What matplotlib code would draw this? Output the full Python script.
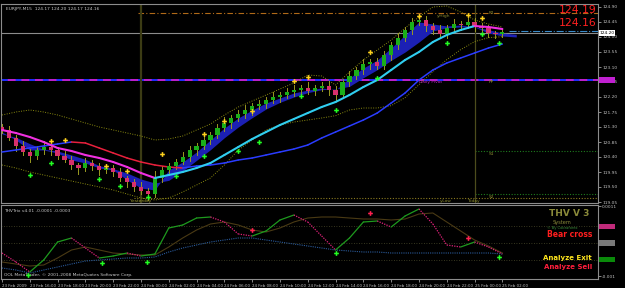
import numpy as np
import matplotlib
matplotlib.use('Agg')
import matplotlib.pyplot as plt

# ---- data (EURJPY M15, shown as 30 min bars) ----
# x axis in hours since 23 Feb 2009 14:00
bar_hours = np.arange(73) * 0.5
closes = [121.21, 120.97, 120.73, 120.55, 120.43, 120.61, 120.70, 120.61, 120.43, 120.31,
          120.16, 120.07, 120.22, 120.13, 120.01, 120.07, 119.95, 119.77, 119.65, 119.50,
          119.38, 119.29, 119.77, 120.01, 120.13, 120.25, 120.40, 120.61, 120.73, 120.91,
          121.06, 121.27, 121.42, 121.57, 121.69, 121.81, 121.93, 121.99, 122.11, 122.20,
          122.26, 122.35, 122.41, 122.47, 122.38, 122.47, 122.53, 122.41, 122.26, 122.65,
          122.83, 123.01, 123.19, 123.25, 123.13, 123.46, 123.76, 123.97, 124.21, 124.45,
          124.51, 124.33, 124.21, 124.09, 124.27, 124.39, 124.36, 124.45, 124.33, 124.27,
          124.12, 124.08, 124.16]
first_open = 121.30
wick_up = [0.09, 0.12, 0.08, 0.15, 0.10, 0.13, 0.18, 0.09, 0.08, 0.14, 0.12, 0.07, 0.16, 0.10, 0.08,
           0.13, 0.09, 0.12, 0.07, 0.10, 0.15, 0.08, 0.21, 0.13, 0.10, 0.09, 0.15, 0.12, 0.08, 0.14,
           0.10, 0.13, 0.17, 0.09, 0.12, 0.15, 0.08, 0.13, 0.10, 0.16, 0.09, 0.12, 0.14, 0.08, 0.18,
           0.10, 0.13, 0.15, 0.12, 0.09, 0.14, 0.10, 0.16, 0.08, 0.13, 0.12, 0.09, 0.15, 0.10, 0.13,
           0.17, 0.12, 0.08, 0.14, 0.10, 0.15, 0.09, 0.13, 0.12, 0.08, 0.10, 0.07, 0.09]
wick_dn = [0.10, 0.07, 0.14, 0.09, 0.17, 0.08, 0.12, 0.15, 0.10, 0.07, 0.13, 0.19, 0.09, 0.12, 0.15,
           0.08, 0.13, 0.10, 0.16, 0.12, 0.09, 0.18, 0.08, 0.13, 0.15, 0.10, 0.07, 0.12, 0.14, 0.09,
           0.13, 0.08, 0.10, 0.15, 0.09, 0.12, 0.16, 0.08, 0.13, 0.10, 0.14, 0.09, 0.12, 0.17, 0.08,
           0.13, 0.10, 0.15, 0.19, 0.09, 0.12, 0.08, 0.13, 0.16, 0.10, 0.09, 0.14, 0.12, 0.08, 0.13,
           0.10, 0.15, 0.13, 0.09, 0.12, 0.08, 0.14, 0.10, 0.16, 0.09, 0.13, 0.12, 0.08]

line_hours = np.arange(37)
ma_fast = [121.21, 121.12, 121.00, 120.85, 120.67, 120.58, 120.46, 120.37, 120.25, 120.10,
           119.92, 119.77, 119.86, 119.95, 120.07, 120.22, 120.46, 120.70, 120.94, 121.15,
           121.36, 121.54, 121.72, 121.90, 122.05, 122.26, 122.50, 122.71, 123.01, 123.31,
           123.55, 123.85, 124.06, 124.21, 124.33, 124.30, 124.24]
ma_slow = [120.55, 120.61, 120.67, 120.73, 120.79, 120.85, 120.82, 120.67, 120.52, 120.37,
           120.25, 120.16, 120.10, 120.07, 120.13, 120.16, 120.22, 120.31, 120.37, 120.46,
           120.55, 120.64, 120.76, 120.97, 121.15, 121.33, 121.51, 121.72, 122.02, 122.32,
           122.71, 123.01, 123.22, 123.37, 123.52, 123.67, 123.79]
band_up = [121.66, 121.75, 121.81, 121.75, 121.66, 121.54, 121.42, 121.30, 121.21, 121.12,
           121.03, 120.91, 120.94, 121.03, 121.21, 121.39, 121.66, 121.90, 122.08, 122.26,
           122.44, 122.62, 122.86, 122.83, 122.56, 122.95, 123.31, 123.61, 123.91, 124.27,
           124.60, 124.90, 124.93, 124.75, 124.51, 124.39, 124.30]
band_dn = [120.16, 120.07, 119.95, 119.86, 119.77, 119.68, 119.59, 119.50, 119.41, 119.29,
           119.17, 119.11, 119.17, 119.35, 119.56, 119.77, 120.16, 120.61, 120.91, 121.21,
           121.36, 121.45, 121.51, 121.57, 121.64, 121.81, 121.87, 121.87, 121.94, 122.18,
           122.57, 122.96, 123.32, 123.62, 123.86, 123.98, 124.01]

cloud_hours = np.arange(38)
cloud_a = [121.15, 120.91, 120.61, 120.61, 120.52, 120.31, 120.22, 120.07, 120.01, 119.71,
           119.47, 119.41, 120.01, 120.25, 120.55, 120.91, 121.27, 121.57, 121.81, 122.02,
           122.17, 122.32, 122.41, 122.47, 122.41, 122.77, 123.07, 123.31, 123.67, 124.06,
           124.45, 124.39, 124.33, 124.36, 124.30, 124.12, 124.03, 124.00]
cloud_b = [121.09, 120.99, 120.80, 120.63, 120.58, 120.46, 120.33, 120.14, 120.05, 119.92,
           119.74, 119.62, 119.70, 119.98, 120.30, 120.62, 120.98, 121.30, 121.58, 121.84,
           122.04, 122.20, 122.33, 122.42, 122.44, 122.52, 122.78, 123.02, 123.30, 123.55,
           123.85, 124.18, 124.28, 124.30, 124.30, 124.22, 124.12, 124.08]

sell_hours = [3.5, 4.5, 7.5, 9.0, 11.5, 14.5, 16.0, 18.0, 21.0, 22.0, 26.5, 30.0, 33.5, 34.5]
sell_prices = [120.88, 120.91, 120.13, 119.98, 120.49, 121.09, 121.48, 121.78, 122.68, 122.80,
               123.55, 124.63, 124.66, 124.57]
buy_hours = [2.0, 3.5, 7.0, 8.5, 10.5, 12.5, 14.5, 17.0, 18.5, 21.5, 24.0, 27.0, 32.0, 34.5, 35.75]
buy_prices = [119.86, 120.22, 119.74, 119.53, 119.20, 119.83, 120.43, 120.58, 120.85, 122.23,
              121.81, 122.77, 123.82, 124.09, 123.82]

# THVTrix panel (values x 1e-4)
trix = [-3.0, -5.7, -8.7, -5.1, 0.3, 1.5, -1.5, -4.5, -3.9, -3.0, -3.9, -3.3, 4.5, 5.4, 7.5,
        7.8, 6.3, 2.7, 2.1, 3.6, 6.9, 8.4, 6.3, 2.1, -2.1, 1.5, 6.3, 6.6, 4.8, 8.1, 10.2, 5.7,
        -0.6, -1.2, 0.3, -1.2, -3.3]
trix_signal = [-5.7, -6.3, -6.9, -6.6, -4.5, -2.1, -1.2, -2.1, -3.0, -3.3, -3.6, -3.6, -1.2,
               1.5, 3.9, 5.7, 6.3, 5.4, 3.9, 3.3, 4.5, 6.3, 7.5, 7.8, 7.8, 7.5, 7.2, 7.2, 6.9,
               7.2, 8.7, 9.0, 6.3, 3.6, 0.9, -0.9, -3.0]
trix_slow = [-7.5, -8.1, -9.0, -8.1, -7.2, -6.3, -5.4, -5.1, -4.8, -4.5, -4.5, -4.2, -2.7, -1.5,
             -0.6, 0.3, 0.9, 1.5, 1.5, 0.9, 0.3, -0.3, -0.9, -1.5, -2.1, -2.4, -2.7, -2.7, -3.0,
             -3.0, -3.0, -3.0, -3.0, -3.0, -3.0, -3.0, -3.3]
trix_buy_hours = [1.9, 7.2, 10.4, 24.0, 35.75]
trix_buy = [-9.6, -6.0, -5.7, -3.0, -4.2]
trix_sell_hours = [18.0, 26.5, 33.5]
trix_sell = [3.9, 9.0, 1.5]

bid, ask = 124.12, 124.19
pivot = 122.71
y_high, s1, s2, y_low = 124.72, 120.58, 119.29, 119.17
price_ticks = [124.90, 124.45, 124.00, 123.55, 123.10, 122.65, 122.20, 121.75,
               121.30, 120.85, 120.40, 119.95, 119.50, 119.05]
time_labels = ['23 Feb 2009', '23 Feb 16:00', '23 Feb 18:00', '23 Feb 20:00', '23 Feb 22:00',
               '24 Feb 00:00', '24 Feb 02:00', '24 Feb 04:00', '24 Feb 06:00', '24 Feb 08:00',
               '24 Feb 10:00', '24 Feb 12:00', '24 Feb 14:00', '24 Feb 16:00', '24 Feb 18:00',
               '24 Feb 20:00', '24 Feb 22:00', '25 Feb 00:00', '25 Feb 02:00']


def colored(ax, x, y, up_col, dn_col, lw, dn_style='-', zorder=3):
    for i in range(len(x) - 1):
        up = y[i + 1] >= y[i]
        ax.plot(x[i:i + 2], y[i:i + 2], color=up_col if up else dn_col, lw=lw,
                ls='-' if up else dn_style, solid_capstyle='round', zorder=zorder)


W, H = 625, 288
fig = plt.figure(figsize=(W / 100, H / 100), dpi=100, facecolor='black')
ax = fig.add_axes([1 / W, 1 - 203 / H, 597 / W, 199 / H], facecolor='black')
ax2 = fig.add_axes([1 / W, 1 - 279 / H, 597 / W, 74 / H], facecolor='black')
xlim = (-0.07, 42.88)
ylim = (119.02, 124.99)

# ---- price panel ----
ax.fill_between(cloud_hours, cloud_a, cloud_b, color='#1c20b4', lw=0, zorder=2)
ax.plot(line_hours, band_up, color='#8a8a10', lw=0.7, ls=(0, (1, 1.5)), zorder=2)
ax.plot(line_hours, band_dn, color='#8a8a10', lw=0.7, ls=(0, (1, 1.5)), zorder=2)

opens = [first_open] + closes[:-1]
for h, o, c, wu, wd in zip(bar_hours, opens, closes, wick_up, wick_dn):
    top, bot = max(o, c), min(o, c)
    ax.plot([h, h], [bot - wd, top + wu], color='#9a9a20', lw=0.7, zorder=3)
    col = '#1aae1a' if c >= o else '#d8306c'
    ax.bar(h, max(top - bot, 0.03), bottom=bot, width=0.3, color=col, lw=0, zorder=4)

colored(ax, line_hours, ma_slow, '#2a3cff', '#e8203c', 1.1)
colored(ax, line_hours, ma_fast, '#30cef0', '#f030e0', 1.5, zorder=5)

ax.plot(sell_hours, sell_prices, 'P', color='#ffd21e', ms=3.4, mew=0, zorder=6)
ax.plot(buy_hours, buy_prices, 'P', color='#22ff22', ms=3.4, mew=0, zorder=6)

# levels
ax.axhline(bid, color='#8c8c8c', lw=0.8, zorder=1)
ax.plot([36.5, xlim[1]], [ask, ask], color='#3a8ccc', lw=0.8, ls='-.', zorder=1)
ax.axhline(pivot, color='#2030ff', lw=1.4, ls=(0, (4, 3)), zorder=1)
ax.axhline(pivot, color='#c020d0', lw=1.4, ls=(3.5, (4, 3)), zorder=1)
ax.plot([9.8, xlim[1]], [y_high, y_high], color='#b06a18', lw=0.8, ls=(0, (5, 2, 1, 2)), zorder=1)
ax.plot([9.5, xlim[1]], [y_low, y_low], color='#8a7a20', lw=0.8, ls=(0, (1, 1.5)), zorder=1)
ax.plot([34.0, xlim[1]], [s1, s1], color='#1e7a1e', lw=0.8, ls=(0, (1, 1.5)), zorder=1)
ax.plot([34.0, xlim[1]], [s2, s2], color='#1e7a1e', lw=0.8, ls=(0, (1, 1.5)), zorder=1)
ax.axvline(10.0, color='#3c3c14', lw=1.6, zorder=1)
ax.axvline(34.0, color='#4c4c1c', lw=0.9, zorder=1)

tiny = dict(fontsize=3.2, family='DejaVu Sans')
ax.text(10.0, 119.08, 'Yesterday', color='#9a9a30', ha='center', va='center', **tiny)
ax.text(31.9, 119.08, 'y.Low', color='#8a8a30', ha='center', va='center', **tiny)
ax.text(33.9, 119.08, 'Today', color='#8a8a30', ha='center', va='center', **tiny)
ax.text(31.8, 124.62, 'y.High', color='#8a8a30', ha='center', va='center', **tiny)
ax.text(35.2, 124.72, 'R1', color='#8a8a30', ha='center', va='center', **tiny)
ax.text(30.8, 122.66, 'Daily Pivot', color='#c020d0', ha='center', va='center', **tiny)
ax.text(35.2, 122.66, 'PP', color='#8a8a30', ha='center', va='center', **tiny)
ax.text(35.2, 120.50, 'S1', color='#8a8a30', ha='center', va='center', **tiny)
ax.text(35.2, 119.21, 'S2', color='#8a8a30', ha='center', va='center', **tiny)
ax.text(0.008, 0.985, 'EURJPY,M15  124.17 124.20 124.17 124.16', transform=ax.transAxes,
        color='#c8c8c8', ha='left', va='top', **tiny)
ax.text(0.998, 0.972, '124.19', transform=ax.transAxes, color='#ff2020', ha='right', va='center',
        fontsize=7.8, family='DejaVu Sans')
ax.text(0.998, 0.905, '124.16', transform=ax.transAxes, color='#ff2020', ha='right', va='center',
        fontsize=7.8, family='DejaVu Sans')

ax.set_xlim(*xlim)
ax.set_ylim(*ylim)
ax.yaxis.tick_right()
ax.set_yticks(price_ticks)
ax.set_yticklabels(['%.2f' % t for t in price_ticks])
ax.set_xticks([])
ax.tick_params(axis='y', colors='#c0c0c0', labelsize=3.2, length=2, width=0.5, pad=1)
ax.text(1.002, (bid - ylim[0]) / (ylim[1] - ylim[0]), '124.20', transform=ax.transAxes,
        fontsize=3.2, color='black', va='center', ha='left',
        bbox=dict(boxstyle='square,pad=0.15', fc='white', ec='none'))
ax.text(1.002, (pivot - ylim[0]) / (ylim[1] - ylim[0]), '122.71', transform=ax.transAxes,
        fontsize=3.2, color='#c020d0', va='center', ha='left',
        bbox=dict(boxstyle='square,pad=0.15', fc='#c020d0', ec='none'))

# ---- THVTrix panel ----
for g in (5.0, 0.0, -5.0):
    ax2.axhline(g, color='#4a4a2a', lw=0.6, ls=(0, (1, 2)), zorder=1)
ax2.plot(line_hours, trix_slow, color='#2a5a9a', lw=0.8, ls=(0, (1, 1)), zorder=2)
ax2.plot(line_hours, trix_signal, color='#4a3a14', lw=0.8, zorder=2)
colored(ax2, line_hours, trix, '#1e9a1e', '#e0207a', 0.9, dn_style=(0, (1, 1)))
ax2.plot(trix_buy_hours, trix_buy, 'P', color='#22ff22', ms=3.4, mew=0, zorder=6)
ax2.plot(trix_sell_hours, trix_sell, 'P', color='#ff2050', ms=3.4, mew=0, zorder=6)
ax2.set_xlim(*xlim)
ax2.set_ylim(-10.8, 11.4)
ax2.yaxis.tick_right()
ax2.set_yticks([11.0, -10.0])
ax2.set_yticklabels(['0.0011', '-0.001'])
ax2.set_xticks(np.arange(0, 37, 2))
ax2.set_xticklabels(time_labels, ha='left')
ax2.tick_params(axis='y', colors='#c0c0c0', labelsize=3.2, length=2, width=0.5, pad=1)
ax2.tick_params(axis='x', colors='#c0c0c0', labelsize=2.9, length=2, width=0.5, pad=1.5)
for v, fc in ((5.0, '#c02a7a'), (0.0, '#7a7a7a'), (-5.0, '#0a8a0a')):
    ax2.text(1.002, (v + 10.8) / 22.2, '0.0000', transform=ax2.transAxes, fontsize=3.2,
             color=fc, va='center', ha='left', bbox=dict(boxstyle='square,pad=0.15', fc=fc, ec='none'))

ax2.text(0.005, 0.95, 'THVTrix v4.01 -0.0001 -0.0003', transform=ax2.transAxes,
         color='#c8c8c8', ha='left', va='top', **tiny)
ax2.text(0.005, 0.03, 'OOL MetaTrader, \u00a9 2001-2008 MetaQuotes Software Corp.',
         transform=ax2.transAxes, color='#c8c8c8', ha='left', va='bottom', **tiny)
ax2.text(0.985, 0.89, 'THV V 3', transform=ax2.transAxes, color='#8a8a3a', ha='right',
         va='center', fontsize=6.5, fontweight='bold', family='DejaVu Sans')
ax2.text(0.955, 0.77, 'System', transform=ax2.transAxes, color='#8a8a3a', ha='right',
         va='center', fontsize=3.6)
ax2.text(0.965, 0.69, '\u00a9 By Cobraforex', transform=ax2.transAxes, color='#3a8a3a',
         ha='right', va='center', fontsize=2.6)
ax2.text(0.99, 0.60, 'Bear cross', transform=ax2.transAxes, color='#ff1e1e', ha='right',
         va='center', fontsize=5.5, fontweight='bold')
ax2.text(0.99, 0.285, 'Analyze Exit', transform=ax2.transAxes, color='#ffe61e', ha='right',
         va='center', fontsize=5, fontweight='bold')
ax2.text(0.99, 0.165, 'Analyze Sell', transform=ax2.transAxes, color='#ff1e3c', ha='right',
         va='center', fontsize=5, fontweight='bold')

for a in (ax, ax2):
    for s in a.spines.values():
        s.set_color('#8c8c8c')
        s.set_linewidth(0.8)

plt.savefig('out.png', dpi=100, facecolor='black')
